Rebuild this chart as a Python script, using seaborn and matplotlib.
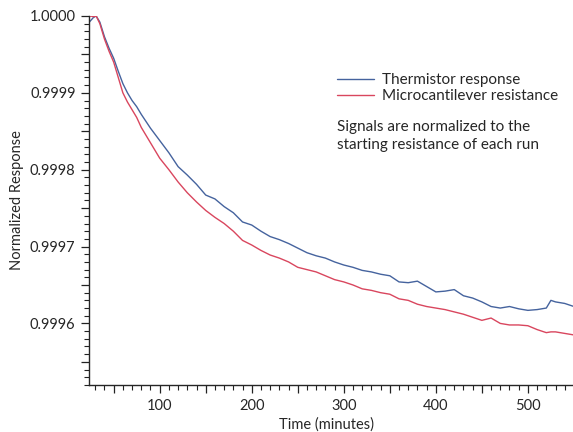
import numpy as np
import pandas as pd
import matplotlib
matplotlib.use("Agg")
import matplotlib.pyplot as plt
from matplotlib.ticker import MultipleLocator, FuncFormatter
import seaborn as sns

# time axis (minutes)
time_min = [22, 25, 28, 31, 35, 40, 45, 50, 55, 60, 65, 70, 75, 80, 90,
            100, 110, 120, 130, 140, 150, 160, 170, 180, 190,
            200, 210, 220, 230, 240, 250, 260, 270, 280, 290,
            300, 310, 320, 330, 340, 350, 360, 370, 380, 390,
            400, 410, 420, 430, 440, 450, 460, 470, 480, 490,
            500, 510, 520, 525, 530, 540, 550]

thermistor = [0.999990, 0.999994, 0.999998, 1.000000, 0.999992, 0.999973, 0.999958,
              0.999945, 0.999928, 0.999912, 0.999900, 0.999890, 0.999882, 0.999872,
              0.999854, 0.999838, 0.999822, 0.999804, 0.999793, 0.999781, 0.999767,
              0.999762, 0.999752, 0.999744, 0.999732, 0.999728, 0.999720, 0.999713,
              0.999709, 0.999704, 0.999698, 0.999692, 0.999688, 0.999685, 0.999680,
              0.999676, 0.999673, 0.999669, 0.999667, 0.999664, 0.999662, 0.999654,
              0.999653, 0.999655, 0.999648, 0.999641, 0.999642, 0.999644, 0.999636,
              0.999633, 0.999628, 0.999622, 0.999620, 0.999622, 0.999619, 0.999617,
              0.999618, 0.999620, 0.999630, 0.999628, 0.999626, 0.999622]

cantilever = [0.999998, 1.000000, 0.999999, 1.000000, 0.999990, 0.999970, 0.999954,
              0.999940, 0.999920, 0.999900, 0.999888, 0.999878, 0.999868, 0.999855,
              0.999835, 0.999815, 0.999800, 0.999784, 0.999770, 0.999758, 0.999747,
              0.999738, 0.999730, 0.999720, 0.999708, 0.999702, 0.999695, 0.999689,
              0.999685, 0.999680, 0.999673, 0.999670, 0.999667, 0.999662, 0.999657,
              0.999654, 0.999650, 0.999645, 0.999643, 0.999640, 0.999638, 0.999632,
              0.999630, 0.999625, 0.999622, 0.999620, 0.999618, 0.999615, 0.999612,
              0.999608, 0.999604, 0.999607, 0.999600, 0.999598, 0.999598, 0.999597,
              0.999592, 0.999588, 0.999589, 0.999589, 0.999587, 0.999585]

labels = ["Thermistor response", "Microcantilever resistance"]
colors = ["#45639e", "#d9465e"]

sns.set_style("ticks")
plt.rcParams["font.family"] = ["Lato", "DejaVu Sans"]

fig = plt.figure(figsize=(5.73, 4.32), dpi=100)
ax = fig.add_axes([0.155, 0.109, 0.845, 0.854])

sns.lineplot(x=time_min, y=thermistor, color=colors[0], lw=1.0, label=labels[0], ax=ax)
sns.lineplot(x=time_min, y=cantilever, color=colors[1], lw=1.0, label=labels[1], ax=ax)

ax.set_xlim(23, 549)
ax.set_ylim(0.99952, 1.0000)

ax.xaxis.set_major_locator(MultipleLocator(50))
ax.xaxis.set_minor_locator(MultipleLocator(10))
ax.xaxis.set_major_formatter(FuncFormatter(lambda v, p: f"{v:.0f}" if round(v) % 100 == 0 else ""))
ax.yaxis.set_major_locator(MultipleLocator(0.00005))
ax.yaxis.set_minor_locator(MultipleLocator(0.00001))
ax.yaxis.set_major_formatter(FuncFormatter(
    lambda v, p: f"{v:.4f}" if abs(round(v * 1e4) - v * 1e4) < 1e-3 else ""))

ax.tick_params(axis="both", which="major", length=6, width=0.9, labelsize=10.5, color="#222222")
ax.tick_params(axis="both", which="minor", length=3.5, width=0.8, color="#222222")
ax.tick_params(axis="x", which="major", pad=4)
sns.despine(ax=ax)
ax.spines["left"].set_linewidth(1.0)
ax.spines["bottom"].set_linewidth(1.0)

ax.set_xlabel("Time (minutes)", fontsize=10.5)
ax.set_ylabel("Normalized Response", fontsize=10.5)
ax.xaxis.set_label_coords(0.49, -0.088)

ax.legend(loc="upper left", bbox_to_anchor=(0.578, 0.845), bbox_transform=fig.transFigure,
          frameon=False, fontsize=11, handlelength=2.4, handletextpad=0.5,
          labelspacing=0.15, borderaxespad=0)

fig.text(0.588, 0.722, "Signals are normalized to the\nstarting resistance of each run",
         fontsize=11, va="top", ha="left", linespacing=1.35)

plt.savefig("out.png", dpi=100)
